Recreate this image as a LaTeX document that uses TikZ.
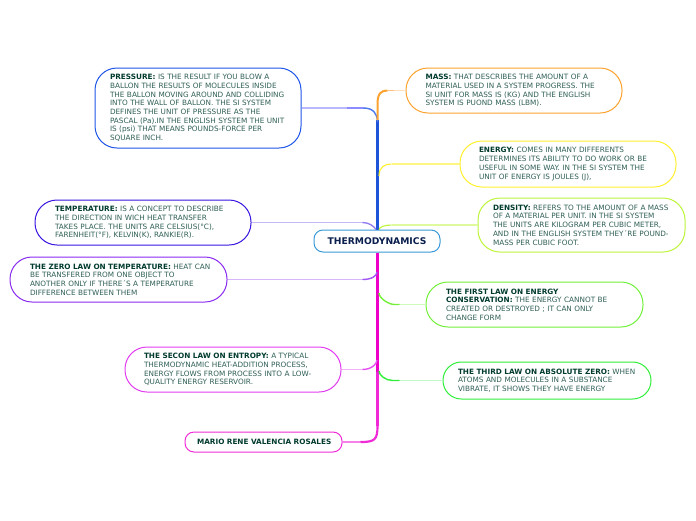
\documentclass[tikz,border=0pt]{standalone}
\usepackage{fontspec}
\setmainfont{DejaVu Sans}
\definecolor{bodyc}{HTML}{2F5F55}
\definecolor{headc}{HTML}{003B2E}
\definecolor{cblue}{HTML}{1F55E8}
\definecolor{cindigo}{HTML}{3A14E0}
\definecolor{cviolet}{HTML}{8A2BF0}
\definecolor{cpink}{HTML}{E23CF0}
\definecolor{cmag}{HTML}{F02CD8}
\definecolor{corange}{HTML}{FBA32E}
\definecolor{cyell}{HTML}{FFF02E}
\definecolor{clime}{HTML}{BDF53A}
\definecolor{cgreen}{HTML}{72F03A}
\definecolor{cgreenb}{HTML}{30EE3A}
\definecolor{croot}{HTML}{3A9AD8}
\definecolor{roottext}{HTML}{0A1F4D}
\definecolor{spblue}{HTML}{1E55D8}
\definecolor{spmag}{HTML}{EE00C8}
\newcommand{\hd}[1]{{\bfseries\color{headc}#1}}
\tikzset{
  mapbox/.style n args={5}{draw=#1, line width=1pt, fill=white, rounded corners=#4pt,
    minimum height=#3pt, text width=#2pt, inner xsep=0pt, inner ysep=0pt, text=bodyc,
    font=\fontsize{7.3}{8.7}\selectfont,
    execute at begin node={\leftskip=#5pt\rightskip=0pt plus 1fil\parfillskip=0pt plus 1fil\parindent=0pt\relax}},
  leadline/.style={line width=1.1pt},
  bendline/.style={line width=1.4pt},
  spineline/.style={line width=2.8pt}
}
\begin{document}
\begin{tikzpicture}[x=1pt,y=-1pt]
\useasboundingbox (0,0) rectangle (696,520);
\node[mapbox={cblue}{206}{80}{22}{15}] (pressure) at (198,108) {\hd{PRESSURE:} IS THE RESULT IF YOU BLOW A\\BALLON THE RESULTS OF MOLECULES INSIDE\\THE BALLON MOVING AROUND AND COLLIDING\\INTO THE WALL OF BALLON. THE SI SYSTEM\\DEFINES THE UNIT OF PRESSURE AS THE\\PASCAL (Pa).IN THE ENGLISH SYSTEM THE UNIT\\IS (psi) THAT MEANS POUNDS-FORCE PER\\SQUARE INCH.};
\node[mapbox={cindigo}{216}{45}{22}{20}] (temp) at (143,222.5) {\hd{TEMPERATURE:} IS A CONCEPT TO DESCRIBE\\THE DIRECTION IN WICH HEAT TRANSFER\\TAKES PLACE. THE UNITS ARE CELSIUS(°C),\\FARENHEIT(°F), KELVIN(K), RANKIE(R).};
\node[mapbox={cviolet}{217}{45}{22}{20}] (zero) at (118.5,279.5) {\hd{THE ZERO LAW ON TEMPERATURE:} HEAT CAN\\BE TRANSFERED FROM ONE OBJECT TO\\ANOTHER ONLY IF THERE´S A TEMPERATURE\\DIFFERENCE BETWEEN THEM};
\node[mapbox={cpink}{216}{45}{22}{19}] (second) at (233,369.5) {\hd{THE SECON LAW ON ENTROPY:} A TYPICAL\\THERMODYNAMIC HEAT-ADDITION PROCESS,\\ENERGY FLOWS FROM PROCESS INTO A LOW-\\QUALITY ENERGY RESERVOIR.};
\node[mapbox={cmag}{157}{20}{9}{12}] (mario) at (263.5,442) {\hd{MARIO RENE VALENCIA ROSALES}};
\node[mapbox={corange}{216}{45}{22}{19.5}] (mass) at (514,90.5) {\hd{MASS:} THAT DESCRIBES THE AMOUNT OF A\\MATERIAL USED IN A SYSTEM PROGRESS. THE\\SI UNIT FOR MASS IS (KG) AND THE ENGLISH\\SYSTEM IS PUOND MASS (LBM).};
\node[mapbox={cyell}{216}{46}{22}{19}] (energy) at (568,164) {\hd{ENERGY:} COMES IN MANY DIFFERENTS\\DETERMINES ITS ABILITY TO DO WORK OR BE\\USEFUL IN SOME WAY. IN THE SI SYSTEM THE\\UNIT OF ENERGY IS JOULES (J),};
\node[mapbox={clime}{207}{54}{22}{15}] (density) at (581.5,225) {\hd{DENSITY:} REFERS TO THE AMOUNT OF A MASS\\OF A MATERIAL PER UNIT. IN THE SI SYSTEM\\THE UNITS ARE KILOGRAM PER CUBIC METER,\\AND IN THE ENGLISH SYSTEM THEY´RE POUND-\\MASS PER CUBIC FOOT.};
\node[mapbox={cgreen}{217}{45}{22}{20}] (first) at (534.5,304.5) {\hd{THE FIRST LAW ON ENERGY}\\\hd{CONSERVATION:} THE ENERGY CANNOT BE\\CREATED OR DESTROYED ; IT CAN ONLY\\CHANGE FORM};
\node[mapbox={cgreenb}{208}{37}{18.4}{15}] (third) at (547,380.5) {\hd{THE THIRD LAW ON ABSOLUTE ZERO:} WHEN\\ATOMS AND MOLECULES IN A SUBSTANCE\\VIBRATE, IT SHOWS THEY HAVE ENERGY};
\node[draw=croot, line width=1pt, fill=white, rounded corners=9pt, minimum width=126pt, minimum height=22pt, inner sep=0pt, text=roottext, font=\fontsize{9.2}{10}\selectfont\bfseries] (root) at (377,241) {THERMODYNAMICS};
% spine and junction points
\coordinate (jmass) at (377.5,120);
\coordinate (jpress) at (377.5,122);
\coordinate (jenergy) at (379,176);
\coordinate (jtemp) at (376,229.5);
\coordinate (jdens) at (379,230);
\coordinate (jzero) at (377,272);
\coordinate (jfirst) at (379,293);
\coordinate (jsec) at (377,360);
\coordinate (jthird) at (379,371);
\coordinate (jlow) at (377.5,372);
\coordinate (jmario) at (377.5,426);
\draw[spineline,spblue] (root.north -| jmass) -- (jmass);
\draw[spineline,spmag] (root.south -| jlow) -- (jlow);
\draw[line width=2.6pt,cmag!90!spmag] (jlow) -- (jmario);
% pressure
\draw[leadline,blue!28] (pressure.east) -- ++(45,0) coordinate (a1);
\draw[leadline,blue!45] (a1) -- ++(17,0) coordinate (a2);
\draw[bendline,cblue!80] (a2) .. controls +(10,0) and +(0,-8) .. (jpress);
% mass
\draw[leadline,orange!25] (mass.west) -- ++(-12,0) coordinate (b1);
\draw[leadline,orange!50] (b1) -- ++(-6,0) coordinate (b2);
\draw[line width=2pt,corange] (b2) .. controls +(-6,0) and (377.5,93) .. (377.5,104) -- (jmass);
% energy
\draw[leadline,cyell!60] (energy.west) -- ++(-68,0) coordinate (c1);
\draw[leadline,cyell] (c1) .. controls +(-7,0) and (379,167) .. (jenergy);
% temperature
\draw[leadline,cindigo!30] (temp.east) -- ++(111,0) coordinate (d1);
\draw[bendline,cindigo!55] (d1) .. controls +(7,0) and +(-2,-3) .. (jtemp);
% density
\draw[leadline,clime!50] (density.west) -- ++(-86,0) coordinate (e1);
\draw[leadline,clime] (e1) .. controls +(-7,0) and +(0,-3) .. (jdens);
% zero
\draw[leadline,cviolet!35] (zero.east) -- ++(135,0) coordinate (f1);
\draw[bendline,cviolet!80] (f1) .. controls +(9,0) and +(0,4) .. (jzero);
% first
\draw[leadline,cgreen!35] (first.west) -- ++(-26,0) coordinate (g1);
\draw[bendline,cgreen] (g1) -- ++(-5,0) .. controls +(-6,0) and +(0,5) .. (jfirst);
% second
\draw[leadline,cpink!40] (second.east) -- ++(21,0) coordinate (h1);
\draw[bendline,cpink!90] (h1) .. controls +(9,0) and +(0,4) .. (jsec);
% third
\draw[leadline,cgreenb!30] (third.west) -- ++(-43,0) coordinate (i1);
\draw[bendline,cgreenb] (i1) -- ++(-7,0) .. controls +(-7,0) and +(0,4) .. (jthird);
% mario
\draw[leadline,cmag!60] (mario.east) -- ++(18,0) coordinate (k1);
\draw[line width=2.2pt,cmag] (k1) .. controls +(14,0) and (377.5,440) .. (jmario);
\end{tikzpicture}
\end{document}
